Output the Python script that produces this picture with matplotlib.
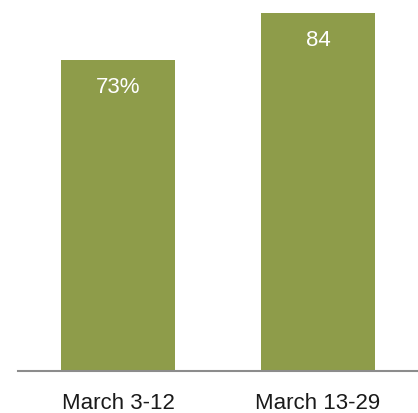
import matplotlib
matplotlib.use("Agg")
import matplotlib.pyplot as plt

categories = ["March 3-12", "March 13-29"]
values = [73, 84]
value_labels = ["73%", "84"]

plt.rcParams['font.family'] = ['Liberation Sans', 'DejaVu Sans']

fig = plt.figure(figsize=(4.18, 4.13), dpi=100)
ax = fig.add_axes([18/418, 1 - 371/413, 400/418, 371/413])
bar_color = "#8E9C4A"
x = list(range(len(categories)))
bars = ax.bar(x, values, width=0.57, color=bar_color, zorder=2)
ax.set_xlim(-0.5, 1.5)
ax.set_ylim(0, 87.05)
for b, lab in zip(bars, value_labels):
    ax.annotate(lab, (b.get_x() + b.get_width()/2, b.get_height()),
                xytext=(0, -28), textcoords="offset pixels",
                ha="center", va="center", color="white", fontsize=16)
for s in ["top", "right", "left"]:
    ax.spines[s].set_visible(False)
ax.spines["bottom"].set_color("#8c8c8c")
ax.spines["bottom"].set_linewidth(1.5)
ax.set_yticks([])
ax.set_xticks(x)
ax.set_xticklabels(categories, fontsize=16, color="#1a1a1a")
ax.tick_params(axis="x", length=0, pad=16)
fig.savefig("out.png", dpi=100)
